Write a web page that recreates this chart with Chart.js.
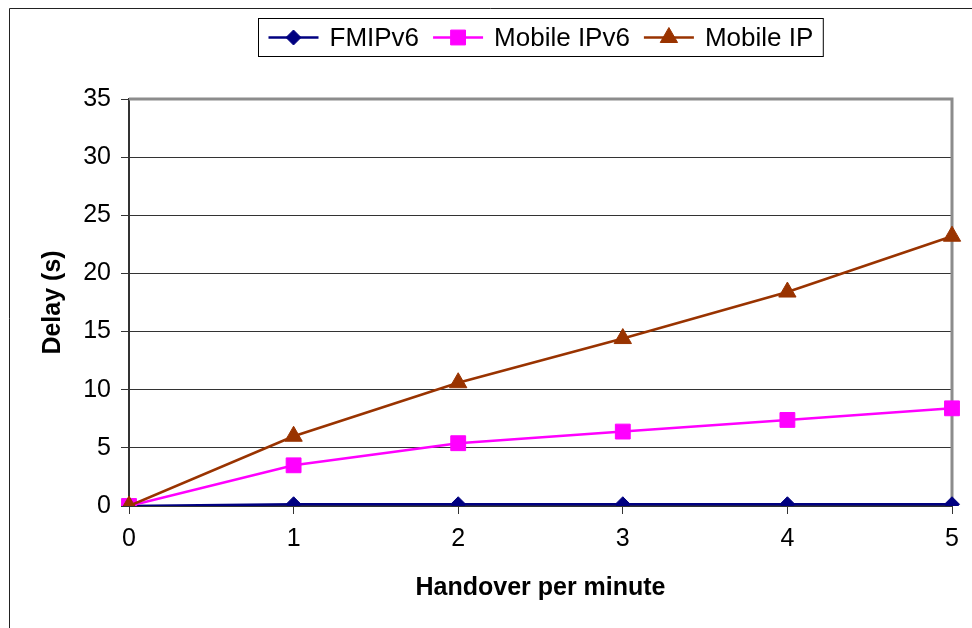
<!DOCTYPE html>
<html>
<head>
<meta charset="utf-8">
<script src="https://cdn.jsdelivr.net/npm/chart.js@4/dist/chart.umd.min.js"></script>
<style>
  body { margin: 0; background: #fff; }
  #wrap { width: 972px; height: 628px; }
</style>
</head>
<body>
<div id="wrap"><canvas id="delay-chart" width="972" height="628"></canvas></div>
<script>
// handovers per minute
var categories = ['0', '1', '2', '3', '4', '5'];
// delay in seconds
var fmipv6 = [0, 0.15, 0.15, 0.15, 0.15, 0.15];
var mobileIPv6 = [0, 3.5, 5.4, 6.4, 7.4, 8.4];
var mobileIP = [0, 6.0, 10.6, 14.4, 18.4, 23.2];
var yMax = 35, yStep = 5;

var FONT = '"Liberation Sans", Arial, Helvetica, sans-serif';

// gray frame on top/right of the plot + the outer border of the picture
var framePlugin = {
    id: 'frame',
    beforeDatasetsDraw: function(chart) {
        var a = chart.chartArea, ctx = chart.ctx;
        ctx.save();
        ctx.strokeStyle = '#8c8c8c';
        ctx.lineWidth = 3;
        ctx.beginPath();
        ctx.moveTo(a.left, a.top);
        ctx.lineTo(a.right, a.top);
        ctx.lineTo(a.right, a.bottom);
        ctx.stroke();
        ctx.restore();
    },
    afterDraw: function(chart) {
        var ctx = chart.ctx;
        ctx.save();
        ctx.strokeStyle = '#222';
        ctx.lineWidth = 1;
        ctx.beginPath();
        ctx.moveTo(9.5, 628);
        ctx.lineTo(9.5, 8.5);
        ctx.lineTo(972, 8.5);
        ctx.stroke();
        ctx.restore();
    }
};

// excel style legend: line with marker, boxed
var boxLegend = {
    id: 'boxLegend',
    afterDraw: function(chart) {
        var ctx = chart.ctx;
        var sets = chart.data.datasets;
        var pad = 10, lineLen = 50, gap = 11, itemGap = 14;
        ctx.save();
        ctx.font = '26px ' + FONT;
        var total = pad * 2;
        sets.forEach(function(ds, i) {
            total += lineLen + gap + ctx.measureText(ds.label).width;
            if (i < sets.length - 1) total += itemGap;
        });
        var left = Math.round(540 - total / 2) + 0.5, top = 18.5, h = 38;
        ctx.strokeStyle = '#000';
        ctx.lineWidth = 1;
        ctx.strokeRect(left, top, total, h);
        var x = left + pad, cy = top + h / 2;
        sets.forEach(function(ds) {
            ctx.strokeStyle = ds.borderColor;
            ctx.lineWidth = ds.borderWidth;
            ctx.beginPath();
            ctx.moveTo(x, cy);
            ctx.lineTo(x + lineLen, cy);
            ctx.stroke();
            ctx.fillStyle = ds.pointBackgroundColor;
            ctx.strokeStyle = ds.pointBorderColor;
            ctx.lineWidth = 1;
            Chart.helpers.drawPoint(ctx, {
                pointStyle: ds.pointStyle,
                radius: ds.pointRadius,
                borderWidth: 1
            }, x + lineLen / 2, cy);
            ctx.fillStyle = '#000';
            ctx.textBaseline = 'middle';
            ctx.textAlign = 'left';
            ctx.fillText(ds.label, x + lineLen + gap, cy + 1);
            x += lineLen + gap + ctx.measureText(ds.label).width + itemGap;
        });
        ctx.restore();
    }
};

function series(label, data, color, style, r, order) {
    return {
        label: label,
        data: data,
        borderColor: color,
        backgroundColor: color,
        pointBackgroundColor: color,
        pointBorderColor: color,
        borderWidth: 2.5,
        pointStyle: style,
        pointRadius: r,
        pointBorderWidth: 1,
        tension: 0,
        order: order
    };
}

var ctx = document.getElementById('delay-chart').getContext('2d');
new Chart(ctx, {
    type: 'line',
    data: {
        labels: categories,
        datasets: [
            series('FMIPv6', fmipv6, '#000080', 'rectRot', 7.5, 2),
            series('Mobile IPv6', mobileIPv6, '#ff00ff', 'rect', 10.5, 1),
            series('Mobile IP', mobileIP, '#993300', 'triangle', 10, 0)
        ]
    },
    options: {
        responsive: false,
        animation: false,
        layout: { padding: { top: 99, right: 20, left: 30, bottom: 10 } },
        plugins: {
            legend: { display: false },
            tooltip: { enabled: false }
        },
        scales: {
            x: {
                offset: false,
                grid: { drawOnChartArea: false, drawTicks: true, tickLength: 8, color: '#333', lineWidth: 1 },
                border: { color: '#333', width: 2 },
                ticks: { color: '#000', font: { family: FONT, size: 25 }, padding: 10, maxRotation: 0 },
                title: { display: true, text: 'Handover per minute', color: '#000',
                         font: { family: FONT, size: 25, weight: 'bold' }, padding: { top: 0, bottom: 15 } },
                afterFit: function(scale) { scale.height = 628 - 506 - 10; }
            },
            y: {
                min: 0,
                max: yMax,
                grid: { color: '#333', lineWidth: 1, drawTicks: true, tickLength: 8 },
                border: { color: '#333', width: 2 },
                ticks: { stepSize: yStep, color: '#000', font: { family: FONT, size: 25 }, padding: 10 },
                title: { display: true, text: 'Delay (s)', color: '#000',
                         font: { family: FONT, size: 25, weight: 'bold' }, padding: { top: 8, bottom: 0 } },
                afterFit: function(scale) { scale.width = 129 - 30; }
            }
        }
    },
    plugins: [framePlugin, boxLegend]
});
</script>
</body>
</html>
